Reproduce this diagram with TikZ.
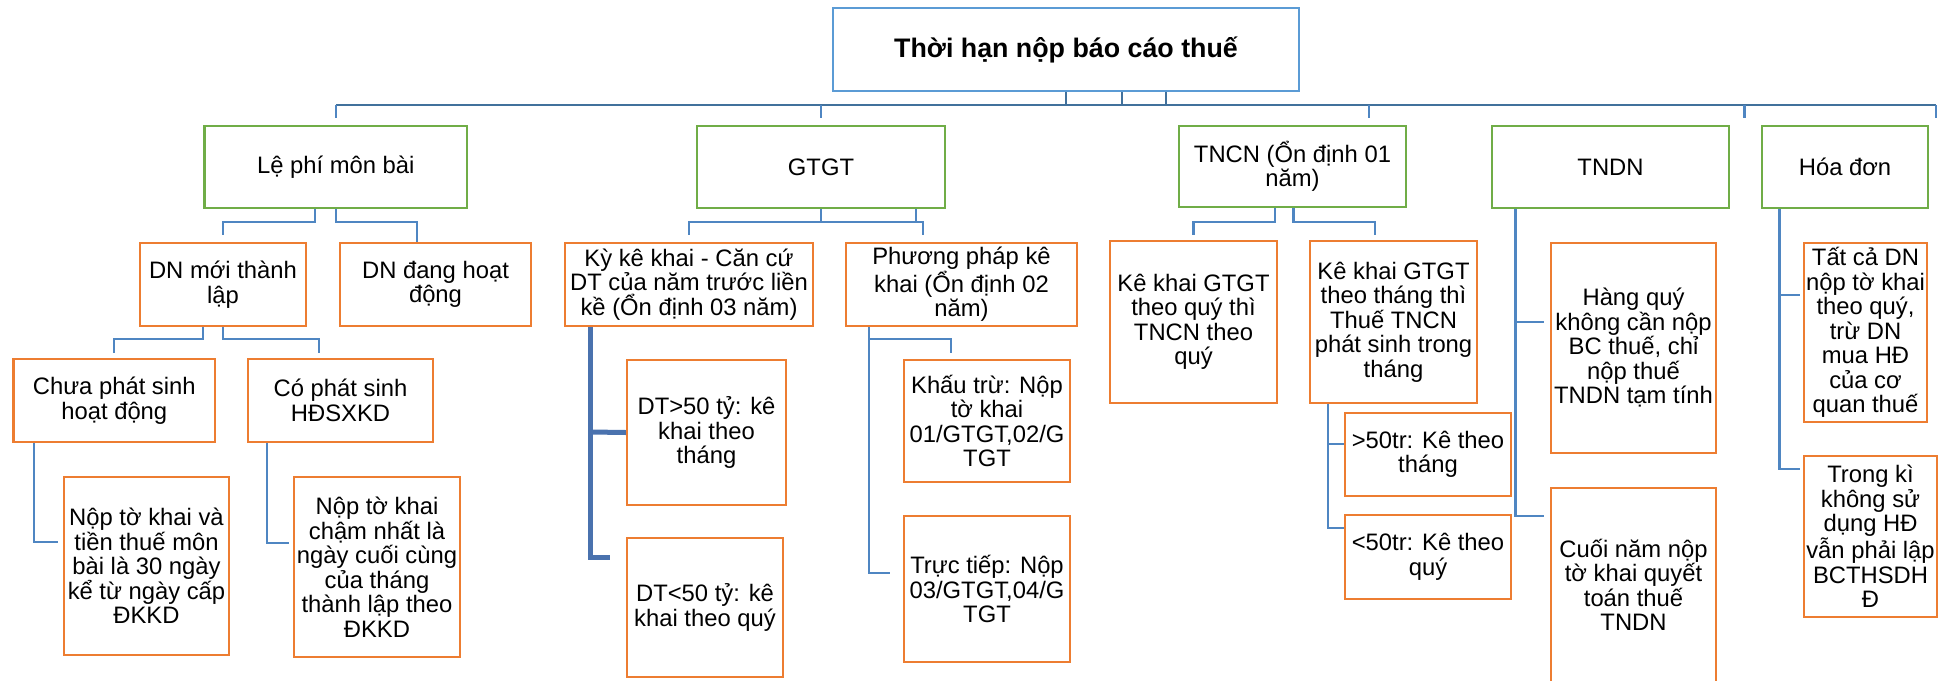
\documentclass[tikz,border=0pt]{standalone}
\usepackage{fontspec}
\setmainfont{Liberation Sans}
\definecolor{borange}{HTML}{ED7D31}
\definecolor{bgreen}{HTML}{70AD47}
\definecolor{rootblue}{HTML}{5B9BD5}
\definecolor{cblue}{HTML}{4F86C2}
\definecolor{busblue}{HTML}{41719C}
\definecolor{thkblue}{HTML}{4A72AE}
\tikzset{
  bx/.style={draw, fill=white, line width=2.4pt, inner sep=0pt, align=center,
    font=\fontsize{23.8}{24.5}\selectfont},
  obox/.style={bx, draw=borange},
  gbox/.style={bx, draw=bgreen},
  rbox/.style={bx, draw=rootblue, line width=2.2pt, font=\fontsize{26.8}{30}\selectfont\bfseries},
  conn/.style={draw=cblue, line width=2.2pt},
  busline/.style={draw=busblue, line width=2.6pt},
  thickconn/.style={draw=thkblue, line width=5pt},
}
\begin{document}
\begin{tikzpicture}[x=1pt,y=-1pt]
\useasboundingbox (0,0) rectangle (1946,680);
% root
\node[rbox, minimum width=466pt, minimum height=83pt] (root) at (1066,49.5) {Thời hạn nộp báo cáo thuế};
% level 1
\node[gbox, minimum width=262.5pt, minimum height=82pt] (lephi) at (335.75,167) {Lệ phí môn bài};
\node[gbox, minimum width=248pt, minimum height=82pt] (gtgt) at (821,167) {GTGT};
\node[gbox, minimum width=227pt, minimum height=81pt] (tncn) at (1292.5,166.5) {TNCN (Ổn định 01\\năm)};
\node[gbox, minimum width=237pt, minimum height=82pt] (tndn) at (1610.5,167) {TNDN};
\node[gbox, minimum width=166pt, minimum height=82pt] (hoadon) at (1845,167) {Hóa đơn};
% Le phi mon bai branch
\node[obox, minimum width=166pt, minimum height=83pt] (dnmoi) at (223,284.5) {DN mới thành\\lập};
\node[obox, minimum width=191pt, minimum height=83pt] (dndang) at (435.5,284.5) {DN đang hoạt\\động};
\node[obox, minimum width=201.4pt, minimum height=83pt] (chua) at (114.3,400.5) {Chưa phát sinh\\hoạt động};
\node[obox, minimum width=185pt, minimum height=83pt] (co) at (340.5,400.5) {Có phát sinh\\HĐSXKD};
\node[obox, minimum width=165pt, minimum height=178pt] (nop1) at (146.5,566) {Nộp tờ khai và\\tiền thuế môn\\bài là 30 ngày\\kể từ ngày cấp\\ĐKKD};
\node[obox, minimum width=166pt, minimum height=180pt] (nop2) at (377,567) {Nộp tờ khai\\chậm nhất là\\ngày cuối cùng\\của tháng\\thành lập theo\\ĐKKD};
% GTGT branch
\node[obox, minimum width=248pt, minimum height=83pt] (ky) at (689,284.5) {Kỳ kê khai - Căn cứ\\DT của năm trước liền\\kề (Ổn định 03 năm)};
\node[obox, minimum width=231pt, minimum height=83pt] (pp) at (961.5,284.5) {Phương pháp kê\\khai (Ổn định 02\\năm)};
\node[obox, minimum width=159pt, minimum height=145pt] (dtA) at (706.5,432.5) {DT>50 tỷ: kê\\khai theo\\tháng};
\node[obox, minimum width=156pt, minimum height=139pt] (dtB) at (705,607.5) {DT<50 tỷ: kê\\khai theo quý};
\node[obox, minimum width=166pt, minimum height=122pt] (khau) at (987,421) {Khấu trừ: Nộp\\tờ khai\\01/GTGT,02/G\\TGT};
\node[obox, minimum width=166pt, minimum height=146pt] (truc) at (987,589) {Trực tiếp: Nộp\\03/GTGT,04/G\\TGT};
% TNCN branch
\node[obox, minimum width=167pt, minimum height=162pt] (kkq) at (1193.5,322) {Kê khai GTGT\\theo quý thì\\TNCN theo\\quý};
\node[obox, minimum width=167pt, minimum height=162pt] (kkt) at (1393.5,322) {Kê khai GTGT\\theo tháng thì\\Thuế TNCN\\phát sinh trong\\tháng};
\node[obox, minimum width=166pt, minimum height=83pt] (trA) at (1428,454.5) {>50tr: Kê theo\\tháng};
\node[obox, minimum width=166pt, minimum height=84pt] (trB) at (1428,557) {<50tr: Kê theo\\quý};
% TNDN branch
\node[obox, minimum width=165pt, minimum height=210pt] (hangquy) at (1633.5,348) {Hàng quý\\không cần nộp\\BC thuế, chỉ\\nộp thuế\\TNDN tạm tính};
\node[obox, minimum width=165pt, minimum height=194pt] (cuoinam) at (1633.5,585) {Cuối năm nộp\\tờ khai quyết\\toán thuế\\TNDN};
% Hoa don branch
\node[obox, minimum width=123pt, minimum height=179pt] (tatca) at (1865.5,332.5) {Tất cả DN\\nộp tờ khai\\theo quý,\\trừ DN\\mua HĐ\\của cơ\\quan thuế};
\node[obox, minimum width=133pt, minimum height=161pt] (trongki) at (1870.5,536.5) {Trong kì\\không sử\\dụng HĐ\\vẫn phải lập\\BCTHSDH\\Đ};

% free ends of the bus drops
\coordinate (dropA) at (1369,118);
\coordinate (dropB) at (1744.5,118);
\coordinate (dropC) at (1936,118);
% bus from root
\draw[busline] (root.south) -- (root.south |- 0,105);
\draw[busline] (root.south -| 1122,0) -- (1122,105);
\draw[busline] (root.south -| 1166,0) -- (1166,105);
\draw[busline] (lephi.north |- 0,105) -- (dropC |- 0,105);
\draw[conn] (lephi.north |- 0,105) -- (lephi.north |- 0,118);
\draw[conn] (gtgt.north |- 0,105) -- (gtgt.north |- 0,118);
\draw[conn] (dropA |- 0,105) -- (dropA);
\draw[conn] (dropB |- 0,105) -- (dropB);
\draw[conn] (dropC |- 0,105) -- (dropC);
% Le phi children
\draw[conn] (lephi.south -| 315,0) |- (dnmoi.north |- 0,222) -- (dnmoi.north |- 0,235);
\draw[conn] (lephi.south) |- (417,222) -- (dndang.north -| 417,0);
% GTGT children
\draw[conn] (gtgt.south -| 916,0) |- (ky.north |- 0,222) -- (ky.north |- 0,235);
\draw[conn] (gtgt.south) |- (923,222) -- (923,235);
% TNCN children
\draw[conn] (tncn.south -| 1275,0) |- (kkq.north |- 0,222) -- (kkq.north |- 0,235);
\draw[conn] (tncn.south -| 1293.5,0) |- (1375,222) -- (1375,235);
% DN moi children
\draw[conn] (dnmoi.south -| 203,0) |- (chua.north |- 0,339) -- (chua.north |- 0,353);
\draw[conn] (dnmoi.south) |- (319,339) -- (319,353);
% leaves
\draw[conn] (chua.south -| 34,0) |- (58,542);
\draw[conn] (co.south -| 267,0) |- (289,543);
\draw[thickconn] (ky.south -| 590,0) |- (610,557);
\draw[thickconn] (590,432) -- (dtA.west);
\draw[conn] (pp.south -| 869,0) |- (890,573);
\draw[conn] (869,339) -| (951,353);
\draw[conn] (kkt.south -| 1328,0) |- (trB.west |- 0,528);
\draw[conn] (1328,444) -- (trA.west |- 0,444);
\draw[conn] (tndn.south -| 1515.5,0) |- (1544,516);
\draw[conn] (1515.5,322) -- (1544,322);
\draw[conn] (hoadon.south -| 1779.5,0) |- (1800,469);
\draw[conn] (1779.5,295) -- (1800,295);
\end{tikzpicture}
\end{document}
